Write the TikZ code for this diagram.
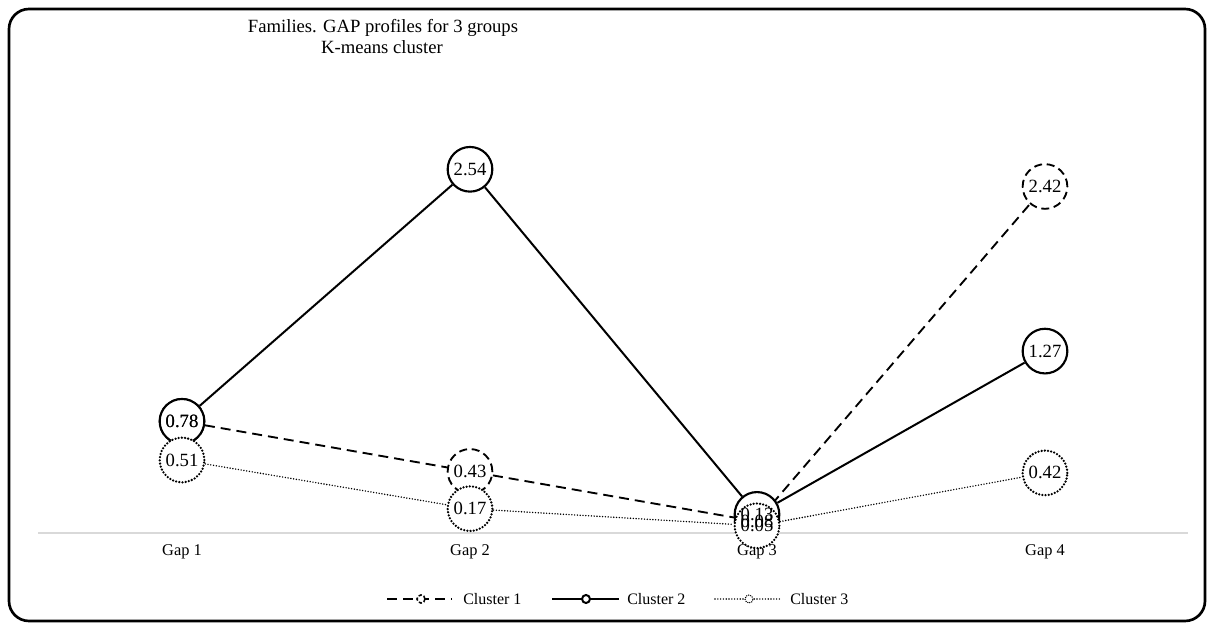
\documentclass[tikz,border=0pt]{standalone}
\usepackage{fontspec}
\setmainfont{Liberation Serif}
\pgfdeclarelayer{bg}\pgfdeclarelayer{fg}\pgfsetlayers{bg,main,fg}
\begin{document}
\begin{tikzpicture}[x=0.75pt,y=-0.75pt,
  pt/.style={circle,minimum size=33.5pt,inner sep=0pt,fill=white},
  c1/.style={pt,draw,line width=1.4pt,dash pattern=on 6pt off 3.5pt},
  c2/.style={pt,draw,line width=1.6pt},
  c3/.style={pt,draw,line width=1.9pt,line cap=round,dash pattern=on 0pt off 2.4pt},
  l1/.style={line width=1.4pt,dash pattern=on 7.5pt off 4.5pt},
  l2/.style={line width=1.5pt},
  l3/.style={line width=1.2pt,line cap=round,dash pattern=on 0pt off 2.1pt},
  val/.style={font=\fontsize{14}{15}\selectfont,inner sep=0pt},
  gaplab/.style={font=\fontsize{12.3}{13}\selectfont,inner sep=0pt},
  leglab/.style={font=\fontsize{12}{13}\selectfont,inner sep=0pt,anchor=west},
  ttl/.style={font=\fontsize{14}{16}\selectfont,inner sep=0pt},
  mk/.style={circle,minimum size=6pt,inner sep=0pt,fill=white,draw},
]
\useasboundingbox (0,0) rectangle (1214,630);
\begin{pgfonlayer}{bg}
\fill[white] (0,0) rectangle (1214,630);
\end{pgfonlayer}
\draw[line width=2pt,rounded corners=15pt] (9,9) rectangle (1205,621);

% title
\node[ttl] (t1) at (383,28) {Families. GAP profiles for 3 groups};
\node[ttl] (t2) at (382,47) {K-means cluster};

% axis
\coordinate (axL) at (38,533);
\coordinate (axR) at (1188,533);
\node[gaplab] (g1) at (182,552) {Gap 1};
\node[gaplab] (g2) at (470,552) {Gap 2};
\node[gaplab] (g3) at (757,552) {Gap 3};
\node[gaplab] (g4) at (1045,552) {Gap 4};

% cluster 1 (dashed)
\node[c1] (a1) at (182,421.3) {};
\node[c1] (a2) at (470,471.4) {};
\node[c1] (a3) at (757,521.5) {};
\node[c1] (a4) at (1045,186.5) {};
% cluster 2 (solid)
\node[c2] (b1) at (182,421.3) {};
\node[c2] (b2) at (470,169.3) {};
\node[c2] (b3) at (757,514.4) {};
\node[c2] (b4) at (1045,351.1) {};
% cluster 3 (dotted)
\node[c3] (d1) at (182,460.0) {};
\node[c3] (d2) at (470,508.7) {};
\node[c3] (d3) at (757,525.8) {};
\node[c3] (d4) at (1045,472.9) {};

\begin{pgfonlayer}{bg}
\draw[black!15,line width=1.2pt] (axL) -- (axR);
\draw[l1] (a1) -- (a2) -- (a3) -- (a4);
\draw[l2] (b1) -- (b2) -- (b3) -- (b4);
\draw[l3] (d1) -- (d2) -- (d3) -- (d4);
\end{pgfonlayer}

\begin{pgfonlayer}{fg}
\node[val] at (a1) {0.78};
\node[val] at (a2) {0.43};
\node[val] at (a3) {0.08};
\node[val] at (a4) {2.42};
\node[val] at (b1) {0.78};
\node[val] at (b2) {2.54};
\node[val] at (b3) {0.13};
\node[val] at (b4) {1.27};
\node[val] at (d1) {0.51};
\node[val] at (d2) {0.17};
\node[val] at (d3) {0.05};
\node[val] at (d4) {0.42};
\end{pgfonlayer}

% legend
\coordinate (la1) at (387,599);
\coordinate (lb1) at (452,599);
\coordinate (la2) at (552,599);
\coordinate (lb2) at (619,599);
\coordinate (la3) at (715,599);
\coordinate (lb3) at (780,599);
\draw[l1] (la1) -- (lb1);
\draw[l2] (la2) -- (lb2);
\draw[l3] (la3) -- (lb3);
\node[mk,line width=1.2pt,dash pattern=on 2.5pt off 1.5pt] (m1) at (421,599) {};
\node[mk,line width=1.5pt] (m2) at (586,599) {};
\node[mk,line width=1.1pt,line cap=round,dash pattern=on 0pt off 1.6pt] (m3) at (749,599) {};
\node[leglab] (k1) at (463,599) {Cluster 1};
\node[leglab] (k2) at (627,599) {Cluster 2};
\node[leglab] (k3) at (790,599) {Cluster 3};
\end{tikzpicture}
\end{document}
